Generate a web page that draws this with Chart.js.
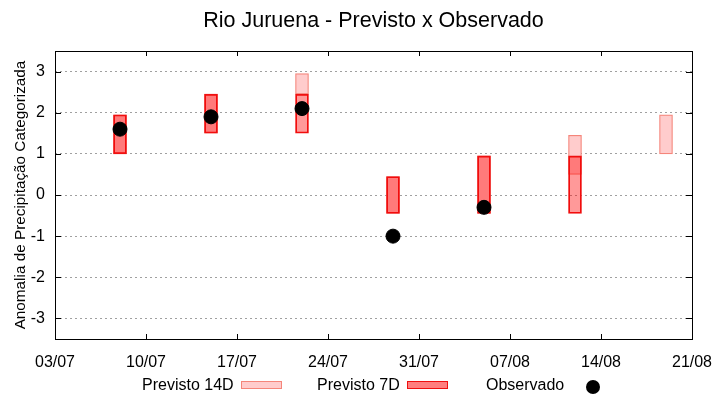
<!DOCTYPE html>
<html>
<head>
<meta charset="utf-8">
<title>Rio Juruena - Previsto x Observado</title>
<script src="https://cdn.jsdelivr.net/npm/chart.js@4.4.1/dist/chart.umd.min.js"></script>
<style>
  body { margin: 0; background: #fff; }
  #wrap { position: relative; width: 720px; height: 400px; }
  #title { position: absolute; left: 55px; width: 637px; top: 7px; text-align: center; font: 21.5px "Liberation Sans", Arial, sans-serif; line-height: 26px; color: #000; }
  .leg { position: absolute; top: 376px; font: 16px "Liberation Sans", Arial, sans-serif; color: #000; line-height: 18px; white-space: nowrap; }
  .sw { position: absolute; box-sizing: border-box; }
</style>
</head>
<body>
<div id="wrap">
  <canvas id="myChart" width="720" height="400"></canvas>
  <div id="title">Rio Juruena - Previsto x Observado</div>
  <span class="leg" style="left:142px">Previsto 14D</span>
  <span class="sw" style="left:241px; top:381px; width:41px; height:8px; background:#ffcccc; border:1.2px solid #f5857a"></span>
  <span class="leg" style="left:317px">Previsto 7D</span>
  <span class="sw" style="left:407px; top:381px; width:41px; height:8px; background:#ff7f7f; border:1.2px solid #ee1111"></span>
  <span class="leg" style="left:486px">Observado</span>
  <span class="sw" style="left:586px; top:380px; width:14px; height:14px; background:#000; border-radius:50%"></span>
</div>
<script>
// weekly forecast dates (dd/mm)
const weeks = ['08/07', '15/07', '22/07', '29/07', '05/08', '12/08', '19/08'];
const prev14Low  = [1.0, 1.5, 2.45, -0.45, -0.45, 0.5, 1.0];
const prev14High = [1.95, 2.45, 2.95, 0.45, 0.95, 1.45, 1.95];
const prev7Low   = [1.0, 1.5, 1.5, -0.45, -0.45, -0.45, null];
const prev7High  = [1.95, 2.45, 2.45, 0.45, 0.95, 0.95, null];
const observed   = [1.6, 1.9, 2.1, -1.0, -0.3, null, null];
const xTicks = ['03/07', '10/07', '17/07', '24/07', '31/07', '07/08', '14/08', '21/08'];
const yTicks = [-3, -2, -1, 0, 1, 2, 3];

// day offset from 03/07
const dayOf = s => {
    const [d, m] = s.split('/').map(Number);
    return (Date.UTC(2000, m - 1, d) - Date.UTC(2000, 6, 3)) / 86400000;
};

const ranges = (lo, hi) => weeks
    .map((w, i) => lo[i] == null ? null : { x: dayOf(w), y: [lo[i], hi[i]] })
    .filter(p => p);
const points = observed
    .map((v, i) => v == null ? null : { x: dayOf(weeks[i]), y: v })
    .filter(p => p);

const fam = '"Liberation Sans", Arial, sans-serif';
const font = { family: fam, size: 16 };

// gnuplot-like box with inward tick marks
const framePlugin = {
    id: 'frame',
    afterDatasetsDraw(chart) {
        const { ctx, chartArea: a, scales: { x, y } } = chart;
        ctx.save();
        ctx.strokeStyle = '#000';
        ctx.lineWidth = 1;
        ctx.beginPath();
        y.ticks.forEach(t => {
            const py = Math.round(y.getPixelForValue(t.value)) + 0.5;
            ctx.moveTo(a.left, py); ctx.lineTo(a.left + 6, py);
            ctx.moveTo(a.right, py); ctx.lineTo(a.right - 6, py);
        });
        x.ticks.forEach(t => {
            const px = Math.round(x.getPixelForValue(t.value)) + 0.5;
            ctx.moveTo(px, a.bottom); ctx.lineTo(px, a.bottom - 5);
            ctx.moveTo(px, a.top); ctx.lineTo(px, a.top + 5);
        });
        ctx.stroke();
        ctx.strokeRect(Math.round(a.left) + 0.5, Math.round(a.top) + 0.5,
            Math.round(a.right - a.left), Math.round(a.bottom - a.top));
        ctx.restore();
    }
};

const ctx = document.getElementById('myChart');
new Chart(ctx, {
    type: 'bar',
    data: {
        datasets: [
            {
                label: 'Previsto 14D',
                data: ranges(prev14Low, prev14High),
                backgroundColor: '#ffcccc',
                borderColor: '#f5857a',
                borderWidth: 1.2,
                borderSkipped: false,
                barThickness: 13,
                grouped: false,
                order: 3
            },
            {
                label: 'Previsto 7D',
                data: ranges(prev7Low, prev7High),
                backgroundColor: 'rgba(255, 0, 0, 0.4)',
                borderColor: '#ee1111',
                borderWidth: 1.2,
                borderSkipped: false,
                barThickness: 13,
                grouped: false,
                order: 2
            },
            {
                type: 'scatter',
                label: 'Observado',
                data: points,
                backgroundColor: '#000',
                borderColor: '#000',
                pointRadius: 7,
                order: 1
            }
        ]
    },
    options: {
        responsive: false,
        animation: false,
        layout: { padding: { left: 0, right: 28, top: 51, bottom: 0 } },
        plugins: {
            legend: { display: false },
            tooltip: { enabled: false }
        },
        scales: {
            x: {
                type: 'linear',
                min: 0,
                max: 49,
                offset: false,
                grid: { display: false },
                border: { display: false },
                ticks: {
                    stepSize: 7,
                    color: '#000',
                    font: font,
                    padding: 6,
                    maxRotation: 0,
                    callback: v => xTicks[v / 7]
                },
                afterFit: s => { s.height = 61; }
            },
            y: {
                min: -3.5,
                max: 3.5,
                grid: { color: '#a0a0a0', drawTicks: false },
                border: { display: false, dash: [2, 3] },
                ticks: {
                    color: '#000',
                    font: font,
                    padding: 10,
                    callback: v => String(v)
                },
                afterBuildTicks: s => { s.ticks = yTicks.map(v => ({ value: v })); },
                title: {
                    display: true,
                    text: 'Anomalia de Precipitação Categorizada',
                    color: '#000',
                    font: { family: fam, size: 15.3 },
                    padding: { top: 12, bottom: 0 }
                },
                afterFit: s => { s.width = 55; }
            }
        }
    },
    plugins: [framePlugin]
});
</script>
</body>
</html>
